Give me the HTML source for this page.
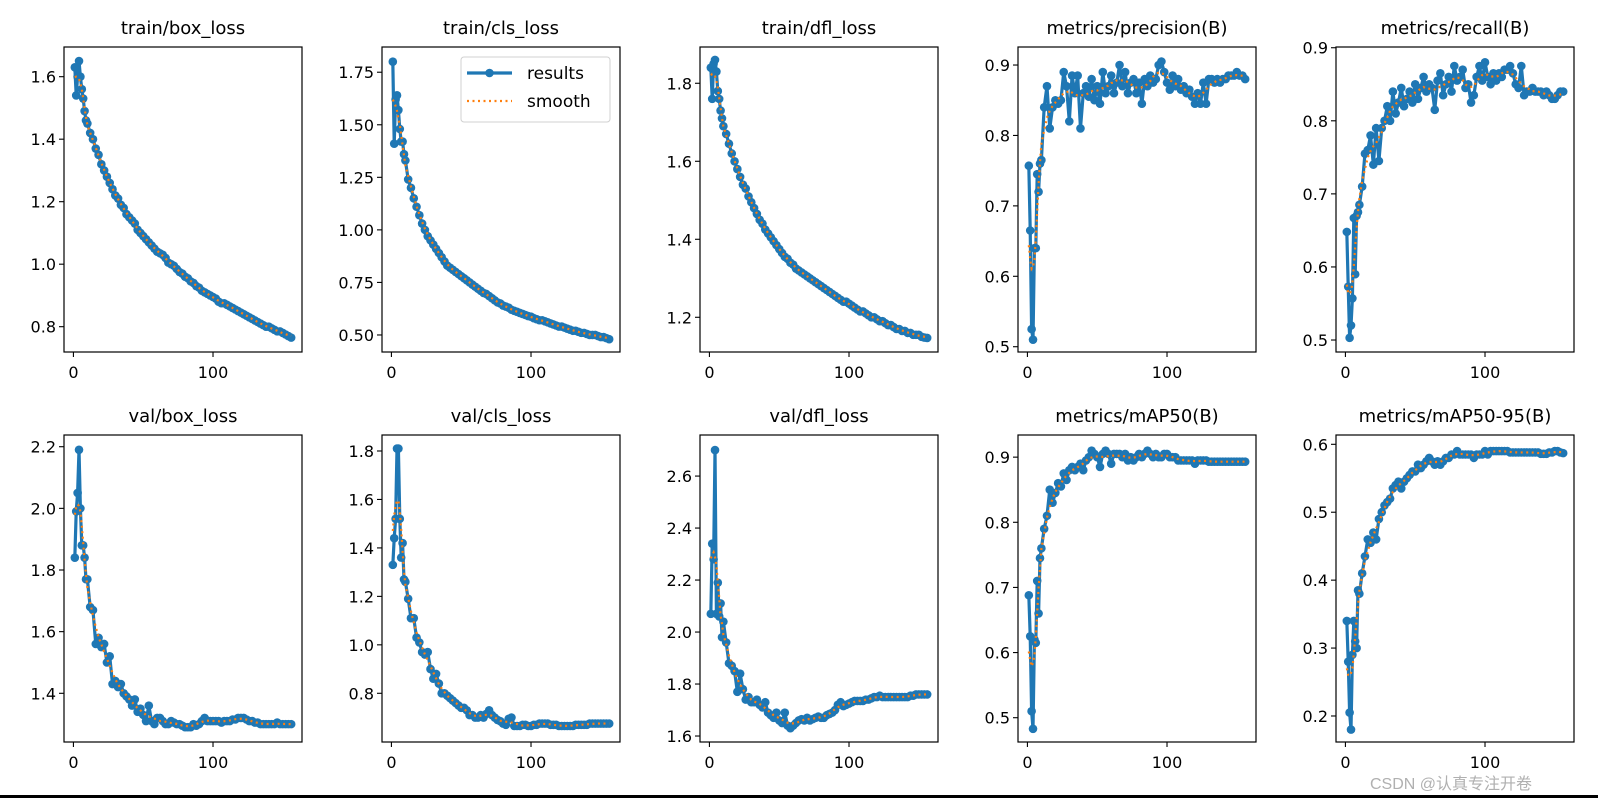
<!DOCTYPE html>
<html><head><meta charset="utf-8"><style>
html,body{margin:0;padding:0;background:#fff;width:1598px;height:798px;overflow:hidden}
text{font-family:"DejaVu Sans","Liberation Sans",sans-serif;fill:#000}
</style></head><body>
<svg id="fig" width="1598" height="798" xmlns="http://www.w3.org/2000/svg">
<rect x="0" y="0" width="1598" height="798" fill="#fff"/>
<rect x="0" y="795" width="1598" height="3" fill="#000"/>
<text x="1532" y="789" text-anchor="end" font-size="16" style="fill:#b0b0b0;font-family:'Liberation Sans','Noto Sans CJK SC',sans-serif">CSDN @认真专注开卷</text>
</svg>
<script>
const epochs=[1,2,3,4,5,6,7,8,9,10,12,14,16,18,20,22,24,26,28,30,32,34,36,38,40,42,44,46,48,50,52,54,56,58,60,62,64,66,68,70,72,74,76,78,80,82,84,86,88,90,92,94,96,98,100,102,104,106,108,110,112,114,116,118,120,122,124,126,128,130,132,134,136,138,140,142,144,146,148,150,152,154,156];
const xTicks=[0,100];
const titles=["train/box_loss","train/cls_loss","train/dfl_loss","metrics/precision(B)","metrics/recall(B)","val/box_loss","val/cls_loss","val/dfl_loss","metrics/mAP50(B)","metrics/mAP50-95(B)"];
const trainBox=[1.63,1.54,1.60,1.65,1.60,1.56,1.53,1.49,1.46,1.45,1.42,1.40,1.37,1.35,1.32,1.30,1.28,1.26,1.24,1.22,1.21,1.19,1.18,1.16,1.15,1.14,1.13,1.11,1.10,1.09,1.08,1.07,1.06,1.05,1.04,1.035,1.03,1.02,1.005,1.0,0.995,0.985,0.975,0.97,0.96,0.955,0.945,0.94,0.93,0.925,0.915,0.91,0.905,0.90,0.895,0.89,0.88,0.875,0.875,0.87,0.865,0.86,0.855,0.85,0.845,0.84,0.835,0.83,0.825,0.82,0.815,0.81,0.805,0.80,0.80,0.795,0.79,0.785,0.785,0.78,0.775,0.77,0.765];
const trainCls=[1.80,1.41,1.62,1.64,1.57,1.48,1.42,1.42,1.36,1.33,1.24,1.20,1.15,1.11,1.07,1.03,1.00,0.97,0.95,0.93,0.91,0.89,0.87,0.85,0.83,0.82,0.81,0.80,0.79,0.78,0.77,0.76,0.75,0.74,0.73,0.72,0.71,0.70,0.695,0.685,0.675,0.665,0.655,0.65,0.64,0.635,0.63,0.62,0.615,0.61,0.605,0.60,0.595,0.59,0.587,0.58,0.575,0.57,0.57,0.565,0.56,0.555,0.55,0.545,0.54,0.54,0.535,0.53,0.525,0.52,0.52,0.515,0.51,0.51,0.505,0.50,0.50,0.50,0.495,0.49,0.49,0.485,0.48];
const trainDfl=[1.84,1.76,1.85,1.86,1.83,1.78,1.76,1.73,1.71,1.69,1.67,1.645,1.62,1.60,1.58,1.56,1.54,1.53,1.51,1.495,1.48,1.465,1.45,1.44,1.425,1.415,1.405,1.395,1.385,1.375,1.365,1.355,1.35,1.34,1.335,1.325,1.32,1.315,1.31,1.305,1.30,1.295,1.29,1.285,1.28,1.275,1.27,1.265,1.26,1.255,1.25,1.245,1.24,1.24,1.235,1.23,1.225,1.22,1.215,1.215,1.21,1.205,1.20,1.20,1.195,1.19,1.19,1.185,1.18,1.18,1.175,1.17,1.17,1.165,1.165,1.16,1.16,1.155,1.155,1.155,1.15,1.148,1.147];
const precision=[0.757,0.665,0.525,0.51,0.64,0.64,0.745,0.72,0.76,0.765,0.84,0.87,0.81,0.84,0.85,0.845,0.85,0.89,0.87,0.82,0.885,0.86,0.885,0.81,0.86,0.87,0.855,0.88,0.85,0.87,0.845,0.89,0.86,0.87,0.885,0.86,0.875,0.90,0.87,0.89,0.86,0.875,0.88,0.86,0.875,0.845,0.88,0.87,0.885,0.875,0.88,0.90,0.905,0.89,0.875,0.865,0.885,0.87,0.88,0.865,0.87,0.86,0.865,0.855,0.845,0.86,0.845,0.875,0.845,0.88,0.88,0.875,0.88,0.875,0.88,0.88,0.885,0.885,0.885,0.89,0.885,0.885,0.88];
const recall=[0.648,0.573,0.503,0.52,0.557,0.667,0.59,0.67,0.675,0.685,0.71,0.755,0.76,0.78,0.74,0.79,0.745,0.79,0.80,0.82,0.80,0.84,0.81,0.825,0.845,0.82,0.83,0.84,0.825,0.85,0.83,0.845,0.86,0.84,0.85,0.845,0.815,0.855,0.865,0.835,0.85,0.86,0.84,0.875,0.855,0.86,0.87,0.845,0.85,0.825,0.835,0.86,0.875,0.855,0.88,0.86,0.85,0.865,0.855,0.865,0.86,0.87,0.87,0.875,0.865,0.85,0.845,0.875,0.835,0.84,0.84,0.845,0.84,0.84,0.84,0.835,0.84,0.835,0.83,0.83,0.835,0.84,0.84];
const valBox=[1.84,1.99,2.05,2.19,2.0,1.88,1.88,1.84,1.77,1.77,1.68,1.67,1.56,1.58,1.55,1.56,1.50,1.52,1.43,1.44,1.42,1.43,1.40,1.39,1.38,1.36,1.38,1.34,1.35,1.33,1.31,1.36,1.31,1.30,1.32,1.32,1.31,1.30,1.30,1.31,1.305,1.30,1.30,1.295,1.29,1.29,1.29,1.30,1.295,1.30,1.31,1.32,1.31,1.31,1.31,1.31,1.31,1.305,1.31,1.31,1.31,1.315,1.315,1.32,1.32,1.32,1.315,1.31,1.31,1.305,1.305,1.30,1.30,1.30,1.30,1.30,1.30,1.305,1.30,1.30,1.30,1.30,1.30];
const valCls=[1.33,1.44,1.52,1.81,1.81,1.52,1.36,1.42,1.27,1.26,1.19,1.11,1.11,1.03,1.01,0.97,0.96,0.97,0.90,0.86,0.88,0.84,0.80,0.80,0.79,0.78,0.77,0.76,0.75,0.74,0.74,0.73,0.71,0.71,0.70,0.70,0.71,0.70,0.715,0.73,0.71,0.70,0.69,0.685,0.675,0.67,0.695,0.70,0.665,0.665,0.665,0.67,0.67,0.665,0.665,0.67,0.67,0.675,0.675,0.675,0.675,0.67,0.67,0.67,0.665,0.665,0.665,0.665,0.665,0.665,0.67,0.67,0.67,0.67,0.67,0.675,0.675,0.675,0.675,0.675,0.675,0.675,0.675];
const valDfl=[2.07,2.34,2.28,2.70,2.07,2.19,2.06,2.11,1.98,2.04,1.96,1.88,1.87,1.85,1.77,1.84,1.78,1.74,1.75,1.73,1.73,1.74,1.72,1.71,1.73,1.69,1.68,1.67,1.69,1.66,1.65,1.69,1.64,1.63,1.64,1.65,1.66,1.665,1.66,1.67,1.66,1.665,1.67,1.675,1.67,1.67,1.68,1.685,1.69,1.70,1.72,1.73,1.715,1.72,1.725,1.73,1.735,1.735,1.735,1.735,1.74,1.74,1.745,1.75,1.75,1.755,1.75,1.75,1.75,1.75,1.75,1.75,1.75,1.75,1.75,1.75,1.755,1.755,1.76,1.76,1.76,1.76,1.76];
const map50=[0.688,0.625,0.51,0.483,0.62,0.615,0.71,0.66,0.745,0.76,0.79,0.81,0.85,0.83,0.845,0.86,0.855,0.875,0.865,0.88,0.885,0.88,0.885,0.89,0.88,0.895,0.90,0.91,0.905,0.90,0.885,0.905,0.91,0.905,0.89,0.905,0.905,0.905,0.90,0.905,0.895,0.90,0.895,0.90,0.905,0.90,0.905,0.91,0.905,0.90,0.905,0.90,0.90,0.905,0.905,0.90,0.90,0.90,0.895,0.895,0.895,0.895,0.895,0.895,0.89,0.895,0.895,0.895,0.895,0.893,0.893,0.893,0.893,0.893,0.893,0.893,0.893,0.893,0.893,0.893,0.893,0.893,0.893];
const map5095=[0.34,0.28,0.205,0.18,0.29,0.34,0.31,0.30,0.385,0.38,0.41,0.435,0.46,0.455,0.47,0.46,0.49,0.50,0.51,0.515,0.52,0.535,0.54,0.545,0.535,0.545,0.55,0.555,0.56,0.56,0.57,0.565,0.57,0.575,0.58,0.575,0.57,0.575,0.57,0.575,0.58,0.58,0.585,0.585,0.59,0.585,0.585,0.585,0.585,0.585,0.58,0.585,0.585,0.585,0.59,0.585,0.59,0.59,0.59,0.59,0.59,0.59,0.59,0.588,0.588,0.588,0.588,0.588,0.588,0.588,0.588,0.588,0.588,0.588,0.586,0.586,0.586,0.588,0.588,0.59,0.59,0.588,0.587];
const series=[trainBox,trainCls,trainDfl,precision,recall,valBox,valCls,valDfl,map50,map5095];
const yTickVals=[[0.8,1.0,1.2,1.4,1.6],[0.50,0.75,1.00,1.25,1.50,1.75],[1.2,1.4,1.6,1.8],[0.5,0.6,0.7,0.8,0.9],[0.5,0.6,0.7,0.8,0.9],[1.4,1.6,1.8,2.0,2.2],[0.8,1.0,1.2,1.4,1.6,1.8],[1.6,1.8,2.0,2.2,2.4,2.6],[0.5,0.6,0.7,0.8,0.9],[0.2,0.3,0.4,0.5,0.6]];
const yTickDec=[1,2,1,1,1,1,1,1,1,1];
const yMin=[0.719,0.419,1.111,0.4925,0.4836,1.242,0.599,1.577,0.4627,0.1617];
const yMax=[1.695,1.870,1.893,0.9256,0.901,2.238,1.866,2.758,0.934,0.6137];

const NS="http://www.w3.org/2000/svg";
const svg=document.getElementById('fig');
function mk(tag,attrs,parent){const e=document.createElementNS(NS,tag);for(const k in attrs)e.setAttribute(k,attrs[k]);(parent||svg).appendChild(e);return e;}
const xMin=-6.75,xMax=163.75;
function smooth(v){const out=[];const r=3;for(let i=0;i<v.length;i++){let s=0,w=0;for(let j=-r;j<=r;j++){const k=i+j;if(k<0||k>=v.length)continue;const ww=Math.exp(-j*j/(2*2.2*2.2));s+=v[k]*ww;w+=ww;}out.push(s/w);}return out;}

for(let p=0;p<10;p++){
  const col=p%5,row=Math.floor(p/5);
  const L=64+col*318,R=L+238,T=row?435:47,B=row?742:352;
  const g=mk('g',{});
  
  
  const xs=x=>L+(x-xMin)/(xMax-xMin)*(R-L);
  const ys=y=>B-(y-yMin[p])/(yMax[p]-yMin[p])*(B-T);
  const t=mk('text',{x:(L+R)/2,y:T-13,'text-anchor':'middle','font-size':'18'},g);
  t.textContent=titles[p];
  
  
  const v=series[p];const n=Math.min(v.length,epochs.length);
  let d='';for(let i=0;i<n;i++)d+=(i?'L':'M')+xs(epochs[i]).toFixed(2)+' '+ys(v[i]).toFixed(2);
  const clip=mk('clipPath',{id:'c'+p},g);mk('rect',{x:L,y:T,width:R-L,height:B-T},clip);
  const dg=mk('g',{'clip-path':'url(#c'+p+')'},g);
  const line=mk('path',{d:d,fill:'none',stroke:'#1f77b4','stroke-width':'3.2','stroke-linejoin':'round'},dg);
  
  
  for(let i=0;i<n;i++){
    const c=mk('circle',{cx:xs(epochs[i]).toFixed(2),cy:ys(v[i]).toFixed(2),r:'4.3',fill:'#1f77b4'},dg);
    
    
  }
  const sm=smooth(v.slice(0,n));let d2='';
  for(let i=0;i<n;i++)d2+=(i?'L':'M')+xs(epochs[i]).toFixed(2)+' '+ys(sm[i]).toFixed(2);
  const sl=mk('path',{d:d2,fill:'none',stroke:'#ff7f0e','stroke-width':'2.2','stroke-dasharray':'2,3.5'},dg);
  
  
  const frame=mk('rect',{x:L,y:T,width:R-L,height:B-T,fill:'none',stroke:'#000','stroke-width':'1.2'},g);
  
  
  for(const xt of xTicks){
    const X=xs(xt);
    mk('line',{x1:X,x2:X,y1:B,y2:B+5,stroke:'#000','stroke-width':'1.1'},g);
    const tl=mk('text',{x:X,y:B+26,'text-anchor':'middle','font-size':'16'},g);
    tl.textContent=String(xt);
    
    
  }
  for(const yt of yTickVals[p]){
    const Y=ys(yt);
    mk('line',{x1:L-5,x2:L,y1:Y,y2:Y,stroke:'#000','stroke-width':'1.1'},g);
    const tl=mk('text',{x:L-8,y:Y+6,'text-anchor':'end','font-size':'16'},g);
    tl.textContent=yt.toFixed(yTickDec[p]);
    
    
  }
  if(p===1){
    const lg=mk('g',{},g);
    
    
    mk('rect',{x:461,y:57,width:149,height:65,rx:3,fill:'#fff','fill-opacity':'0.85',stroke:'#d0d0d0','stroke-width':'1'},lg);
    mk('line',{x1:467,x2:512,y1:73,y2:73,stroke:'#1f77b4','stroke-width':'3.2'},lg);
    mk('circle',{cx:489.5,cy:73,r:4.3,fill:'#1f77b4'},lg);
    mk('line',{x1:467,x2:512,y1:101,y2:101,stroke:'#ff7f0e','stroke-width':'2.2','stroke-dasharray':'2,3.5'},lg);
    const a=mk('text',{x:527,y:79,'font-size':'17'},lg);a.textContent='results';
    
    
    const b=mk('text',{x:527,y:107,'font-size':'17'},lg);b.textContent='smooth';
    
    
  }
}
</script>
</body></html>
